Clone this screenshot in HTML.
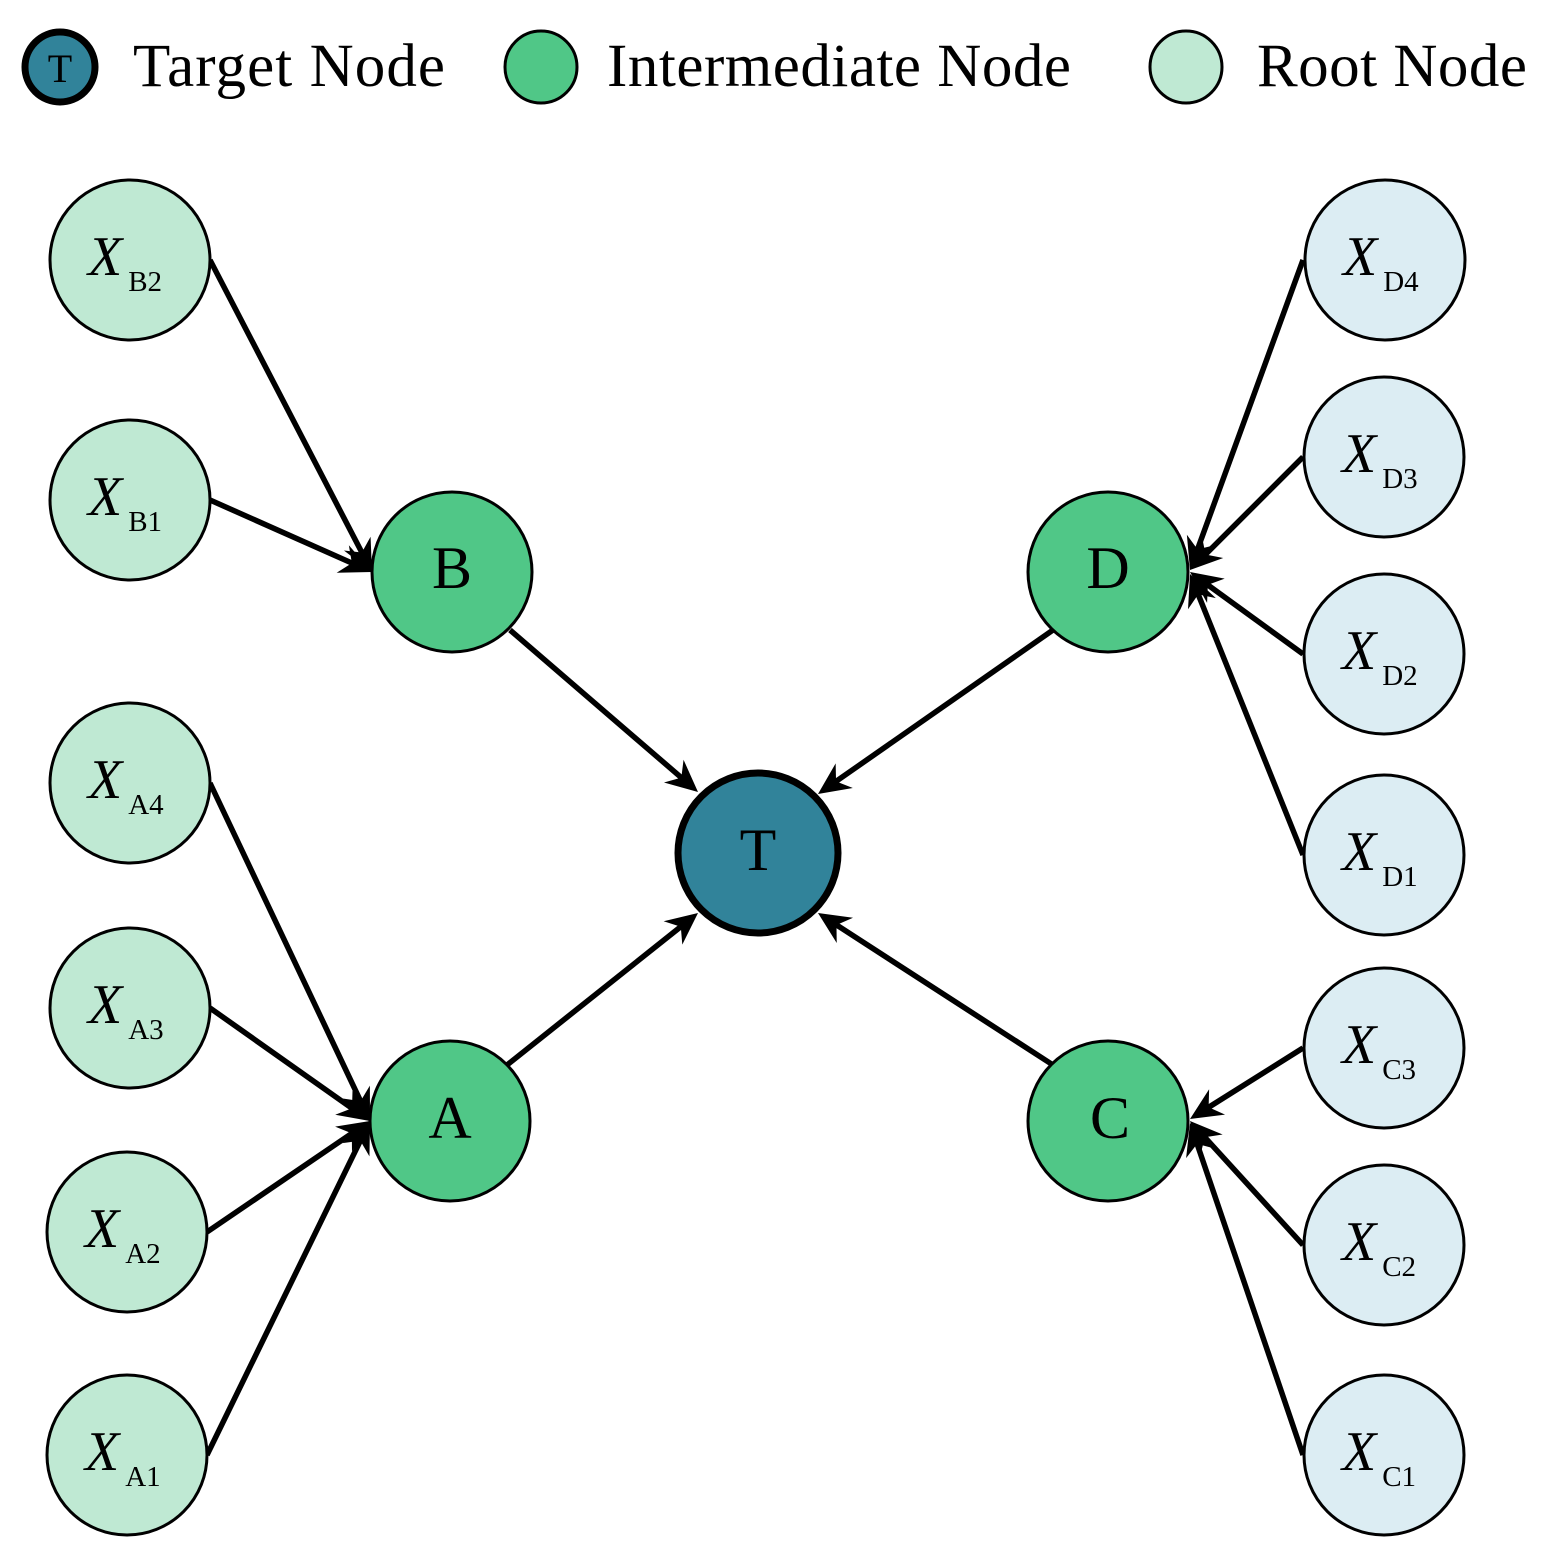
<!DOCTYPE html>
<html><head><style>body{margin:0;background:#fff}svg{display:block}</style></head><body>
<svg id="s" width="1544" height="1553" viewBox="0 0 1544 1553" xmlns="http://www.w3.org/2000/svg" font-family="Liberation Serif, serif">
<g stroke="#000" stroke-width="3">
<circle cx="60" cy="67" r="35" fill="#31839a" stroke-width="7"/>
<circle cx="541" cy="67" r="36" fill="#50c787"/>
<circle cx="1186" cy="67" r="36" fill="#bfe9d3"/>
</g>
<text x="60" y="82" font-size="40" text-anchor="middle">T</text>
<g font-size="61"><text x="133" y="86" textLength="312">Target Node</text><text x="607" y="86" textLength="464">Intermediate Node</text><text x="1257" y="86" textLength="270">Root Node</text></g>
<g id="edges" stroke="#000" stroke-width="5.5"></g>
<g id="heads" fill="#000"></g>
<g stroke="#000" stroke-width="3">
<g fill="#bfe9d3">
<circle cx="130" cy="260" r="80"/><circle cx="130" cy="500" r="80"/>
<circle cx="130" cy="783" r="80"/><circle cx="130" cy="1008" r="80"/>
<circle cx="127" cy="1232" r="80"/><circle cx="127" cy="1455" r="80"/>
</g>
<g fill="#dcedf3">
<circle cx="1385" cy="260" r="80"/><circle cx="1384" cy="457" r="80"/>
<circle cx="1384" cy="654" r="80"/><circle cx="1384" cy="855" r="80"/>
<circle cx="1384" cy="1048" r="80"/><circle cx="1384" cy="1245" r="80"/>
<circle cx="1384" cy="1455" r="80"/>
</g>
<g fill="#50c787">
<circle cx="452" cy="572" r="80"/><circle cx="450" cy="1121" r="80"/>
<circle cx="1108" cy="572" r="80"/><circle cx="1108" cy="1121" r="80"/>
</g>
<circle cx="758" cy="853" r="80" fill="#31839a" stroke-width="7"/>
</g>
<g font-size="60" text-anchor="middle">
<text x="452" y="588">B</text><text x="450" y="1138">A</text>
<text x="1108" y="588">D</text><text x="1110" y="1138">C</text>
<text x="758" y="870">T</text>
</g>
<g font-size="56">
<text x="88" y="275"><tspan font-style="italic">X</tspan><tspan font-size="29" dx="6" dy="16">B2</tspan></text>
<text x="88" y="515"><tspan font-style="italic">X</tspan><tspan font-size="29" dx="6" dy="16">B1</tspan></text>
<text x="88" y="798"><tspan font-style="italic">X</tspan><tspan font-size="29" dx="6" dy="16">A4</tspan></text>
<text x="88" y="1023"><tspan font-style="italic">X</tspan><tspan font-size="29" dx="6" dy="16">A3</tspan></text>
<text x="85" y="1247"><tspan font-style="italic">X</tspan><tspan font-size="29" dx="6" dy="16">A2</tspan></text>
<text x="85" y="1470"><tspan font-style="italic">X</tspan><tspan font-size="29" dx="6" dy="16">A1</tspan></text>
<text x="1343" y="275"><tspan font-style="italic">X</tspan><tspan font-size="29" dx="6" dy="16">D4</tspan></text>
<text x="1342" y="472"><tspan font-style="italic">X</tspan><tspan font-size="29" dx="6" dy="16">D3</tspan></text>
<text x="1342" y="669"><tspan font-style="italic">X</tspan><tspan font-size="29" dx="6" dy="16">D2</tspan></text>
<text x="1342" y="870"><tspan font-style="italic">X</tspan><tspan font-size="29" dx="6" dy="16">D1</tspan></text>
<text x="1342" y="1063"><tspan font-style="italic">X</tspan><tspan font-size="29" dx="6" dy="16">C3</tspan></text>
<text x="1342" y="1260"><tspan font-style="italic">X</tspan><tspan font-size="29" dx="6" dy="16">C2</tspan></text>
<text x="1342" y="1470"><tspan font-style="italic">X</tspan><tspan font-size="29" dx="6" dy="16">C1</tspan></text>
</g>
</svg>
<script>
var E=[[210,260,372,572],[210,500,372,572],[210,783,370,1121],[210,1008,370,1121],[207,1232,370,1121],[207,1455,370,1121],
[1303,260,1190,570],[1303,457,1190,570],[1303,654,1190,572],[1303,855,1190,574],[1303,1048,1190,1119],[1303,1245,1190,1121],[1303,1455,1190,1123],
[510,630,698,792],[1053,630,818,794],[507,1065,698,913],[1053,1065,818,913]];
var ns="http://www.w3.org/2000/svg",ge=document.getElementById("edges"),gh=document.getElementById("heads");
E.forEach(function(e){var dx=e[2]-e[0],dy=e[3]-e[1],L=Math.hypot(dx,dy),ux=dx/L,uy=dy/L,nx=-uy,ny=ux;
var l=document.createElementNS(ns,"line");l.setAttribute("x1",e[0]);l.setAttribute("y1",e[1]);
l.setAttribute("x2",e[2]-ux*20);l.setAttribute("y2",e[3]-uy*20);ge.appendChild(l);
var t=[e[2],e[3]],b=[e[2]-ux*32,e[3]-uy*32],m=[e[2]-ux*22,e[3]-uy*22];
var p=document.createElementNS(ns,"polygon");
p.setAttribute("points",[t,[b[0]+nx*15,b[1]+ny*15],m,[b[0]-nx*15,b[1]-ny*15]].map(function(q){return q.join(",")}).join(" "));
gh.appendChild(p);});
</script>
</body></html>
